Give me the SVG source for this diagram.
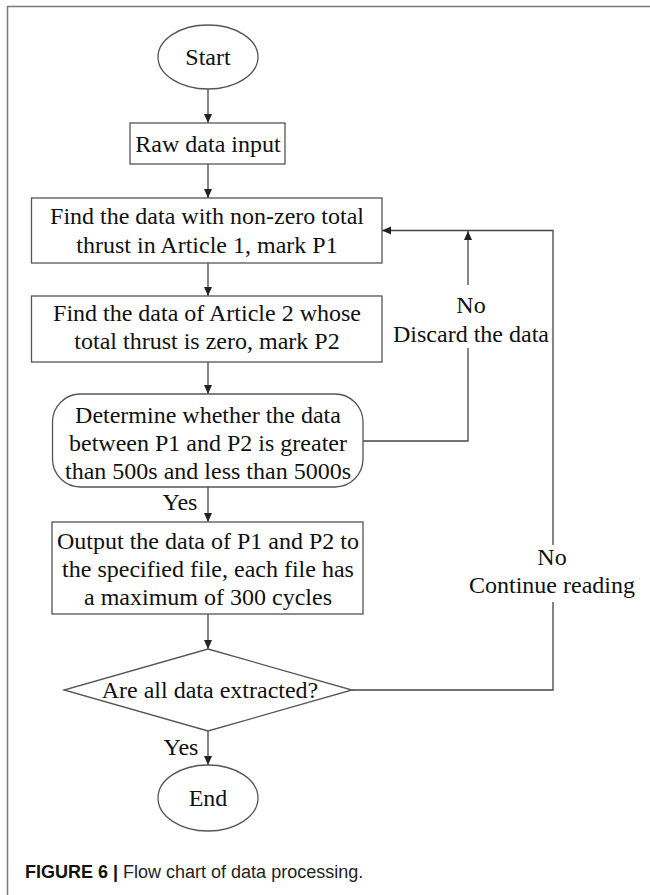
<svg xmlns="http://www.w3.org/2000/svg" width="650" height="895" viewBox="0 0 650 895">
  <style>
    .shape { fill: #ffffff; stroke: #555555; stroke-width: 1.3; }
    .conn { fill: none; stroke: #444444; stroke-width: 1.3; }
    .t { font-family: "Liberation Serif", "Times New Roman", serif; font-size: 24px; fill: #111111; text-anchor: middle; }
    .cap { font-family: "Liberation Sans", Arial, sans-serif; font-size: 18px; fill: #222222; }
  </style>
  <defs>
    <marker id="arrow" markerUnits="userSpaceOnUse" markerWidth="10" markerHeight="10" refX="9" refY="4" orient="auto">
      <path d="M0,0 L9,4 L0,8 Z" fill="#222222"/>
    </marker>
  </defs>
  <rect x="0" y="0" width="650" height="895" fill="#ffffff"/>
  <g id="frame">
    <path d="M7.5,895 L7.5,6.5 L650,6.5" fill="none" stroke="#7a7a7a" stroke-width="1.5"/>
  </g>

  <g id="connectors">
    <line class="conn" x1="208" y1="89" x2="208" y2="123" marker-end="url(#arrow)"/>
    <line class="conn" x1="208" y1="164" x2="208" y2="198" marker-end="url(#arrow)"/>
    <line class="conn" x1="208" y1="263" x2="208" y2="296" marker-end="url(#arrow)"/>
    <line class="conn" x1="208" y1="362" x2="208" y2="394" marker-end="url(#arrow)"/>
    <line class="conn" x1="208" y1="487" x2="208" y2="522" marker-end="url(#arrow)"/>
    <line class="conn" x1="208" y1="614" x2="208" y2="649" marker-end="url(#arrow)"/>
    <line class="conn" x1="208" y1="731" x2="208" y2="765" marker-end="url(#arrow)"/>
    <path class="conn" d="M363,441 L468,441 L468,348"/>
    <path class="conn" d="M468,285 L468,231" marker-end="url(#arrow)"/>
    <path class="conn" d="M352,690 L553,690 L553,602"/>
    <path class="conn" d="M553,545 L553,230.5 L382,230.5" marker-end="url(#arrow)"/>
    <text class="t" x="471" y="313">No</text>
    <text class="t" x="471" y="342">Discard the data</text>
    <text class="t" x="552" y="565">No</text>
    <text class="t" x="552" y="593">Continue reading</text>
    <text class="t" x="180" y="510">Yes</text>
    <text class="t" x="181" y="755">Yes</text>
  </g>

  <g id="start">
    <ellipse class="shape" cx="208" cy="57" rx="50" ry="32"/>
    <text class="t" x="208" y="65">Start</text>
  </g>
  <g id="raw">
    <rect class="shape" x="130" y="123" width="155" height="41"/>
    <text class="t" x="208" y="152">Raw data input</text>
  </g>
  <g id="find-p1">
    <rect class="shape" x="31.5" y="198" width="350.5" height="65"/>
    <text class="t" x="207" y="224">Find the data with non-zero total</text>
    <text class="t" x="207" y="253">thrust in Article 1, mark P1</text>
  </g>
  <g id="find-p2">
    <rect class="shape" x="31.5" y="296" width="350.5" height="66"/>
    <text class="t" x="207" y="321">Find the data of Article 2 whose</text>
    <text class="t" x="207" y="349">total thrust is zero, mark P2</text>
  </g>
  <g id="determine">
    <rect class="shape" x="52.5" y="394" width="310.5" height="93" rx="28" ry="28"/>
    <text class="t" x="208" y="423">Determine whether the data</text>
    <text class="t" x="208" y="451">between P1 and P2 is greater</text>
    <text class="t" x="208" y="479">than 500s and less than 5000s</text>
  </g>
  <g id="output">
    <rect class="shape" x="52" y="522" width="311" height="92"/>
    <text class="t" x="208" y="549">Output the data of P1 and P2 to</text>
    <text class="t" x="208" y="577">the specified file, each file has</text>
    <text class="t" x="208" y="605">a maximum of 300 cycles</text>
  </g>
  <g id="all-extracted">
    <polygon class="shape" points="208,649 352,690 208,731 64,690"/>
    <text class="t" x="210" y="698">Are all data extracted?</text>
  </g>
  <g id="end">
    <ellipse class="shape" cx="208" cy="798" rx="50" ry="33"/>
    <text class="t" x="208" y="806">End</text>
  </g>

  <g id="caption">
    <text class="cap" x="25" y="878"><tspan font-weight="bold" fill="#111111">FIGURE 6 |</tspan> Flow chart of data processing.</text>
  </g>
</svg>
